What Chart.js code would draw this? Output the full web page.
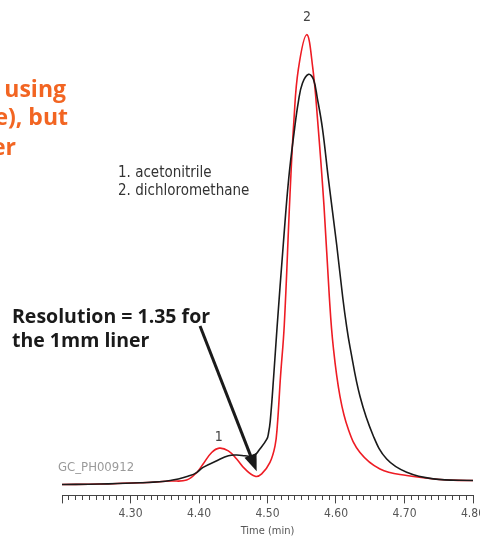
<!DOCTYPE html>
<html>
<head>
<meta charset="utf-8">
<script src="https://cdn.jsdelivr.net/npm/chart.js@4"></script>
<style>body{margin:0;background:#fff}</style>
</head>
<body>
<canvas id="chrom" width="480" height="540"></canvas>
<script>
// black trace
const blackTime = [4.200, 4.255, 4.314, 4.358, 4.387, 4.397, 4.406, 4.426, 4.443, 4.455, 4.467, 4.475, 4.482, 4.487, 4.499, 4.5015, 4.504, 4.509, 4.514, 4.523, 4.531, 4.5395, 4.545, 4.551, 4.560, 4.567, 4.5727, 4.5803, 4.5888, 4.601, 4.6098, 4.6156, 4.6204, 4.635, 4.6545, 4.674, 4.7032, 4.742, 4.800];
const blackSignal = [11, 11.5, 12.7, 15, 20, 23.3, 28.3, 35, 40, 40.7, 40, 39.5, 41, 45, 56.7, 63, 75, 120, 170, 253, 320, 370, 397, 416, 425, 420, 401, 370, 320, 253, 200, 170, 150, 100, 60, 36.7, 23.3, 16.7, 15];
// red trace
const redTime = [4.200, 4.255, 4.314, 4.358, 4.382, 4.397, 4.406, 4.4185, 4.4296, 4.4428, 4.455, 4.467, 4.482, 4.4915, 4.5036, 4.511, 4.5143, 4.519, 4.5245, 4.5328, 4.5387, 4.545, 4.5572, 4.566, 4.573, 4.5825, 4.5903, 4.596, 4.6058, 4.618, 4.635, 4.6642, 4.7032, 4.7518, 4.7908, 4.800];
const redSignal = [11, 11.5, 12.7, 14.5, 15.5, 23.3, 31.7, 43.3, 47.7, 45, 36.7, 26.7, 19.3, 21.7, 33.3, 50, 70, 120, 172, 303, 380, 430, 465, 432, 380, 292, 200, 150, 100, 66.7, 43.3, 26.7, 20, 16, 15, 15];

const tickLabels = ['4.30', '4.40', '4.50', '4.60', '4.70', '4.80'];
const peakNames = ['1', '2'];
const peakTimes = [4.429, 4.5577];
const peakLabelHeights = [60, 484];
const compounds = ['1. acetonitrile', '2. dichloromethane'];
const titleBits = ['using', 'e), but', 'er'];
const noteLines = ['Resolution = 1.35 for', 'the 1mm liner'];
const arrowFrom = [4.4015, 171];
const arrowTo = [4.4842, 24.3];

const narrow = "'Liberation Sans Narrow', 'DejaVu Sans Condensed', sans-serif";

function toPoints(xs, ys) {
  return xs.map((x, i) => ({x: x, y: ys[i]}));
}

const textPlugin = {
  id: 'texts',
  afterDraw(chart) {
    const ctx = chart.ctx;
    const xs = chart.scales.x, ys = chart.scales.y;
    ctx.save();
    // cropped orange heading
    ctx.fillStyle = '#f26522';
    ctx.font = "bold 23px 'Open Sans', sans-serif";
    ctx.textAlign = 'right';
    ctx.textBaseline = 'alphabetic';
    ctx.fillText(titleBits[0], 66, 97);
    ctx.fillText(titleBits[1], 68, 125);
    ctx.fillText(titleBits[2], 16, 155);

    // compound list
    ctx.textAlign = 'left';
    ctx.fillStyle = '#333';
    ctx.font = '15px ' + narrow;
    ctx.fillText(compounds[0], 118, 177);
    ctx.fillText(compounds[1], 118, 195);

    // peak numbers
    ctx.textAlign = 'center';
    ctx.fillStyle = '#444';
    ctx.font = '14px ' + narrow;
    peakNames.forEach((n, i) => {
      ctx.fillText(n, xs.getPixelForValue(peakTimes[i]), ys.getPixelForValue(peakLabelHeights[i]) + 5);
    });

    // file id
    ctx.textAlign = 'left';
    ctx.fillStyle = '#9a9a9a';
    ctx.font = '13px ' + narrow;
    ctx.fillText('GC_PH00912', 58, 471);

    // resolution note
    ctx.fillStyle = '#1a1a1a';
    ctx.font = "bold 19.5px 'Open Sans', sans-serif";
    ctx.fillText(noteLines[0], 12, 323);
    ctx.fillText(noteLines[1], 12, 347);

    // arrow
    const x1 = xs.getPixelForValue(arrowFrom[0]), y1 = ys.getPixelForValue(arrowFrom[1]);
    const x2 = xs.getPixelForValue(arrowTo[0]), y2 = ys.getPixelForValue(arrowTo[1]);
    const len = Math.hypot(x2 - x1, y2 - y1);
    const ux = (x2 - x1) / len, uy = (y2 - y1) / len;
    const hl = 17, hw = 6.5;
    const bx = x2 - ux * hl, by = y2 - uy * hl;
    ctx.strokeStyle = '#1a1a1a';
    ctx.lineWidth = 3;
    ctx.beginPath();
    ctx.moveTo(x1, y1);
    ctx.lineTo(bx + ux * 2, by + uy * 2);
    ctx.stroke();
    ctx.beginPath();
    ctx.moveTo(x2, y2);
    ctx.lineTo(bx - uy * hw, by + ux * hw);
    ctx.lineTo(bx + uy * hw, by - ux * hw);
    ctx.closePath();
    ctx.fill();
    ctx.restore();
  }
};

new Chart(document.getElementById('chrom'), {
  type: 'line',
  data: {
    datasets: [
      {
        label: 'black',
        data: toPoints(blackTime, blackSignal),
        borderColor: '#1a1a1a',
        borderWidth: 1.6,
        pointRadius: 0,
        tension: 0.4
      },
      {
        label: 'red',
        data: toPoints(redTime, redSignal),
        borderColor: '#ee1c24',
        borderWidth: 1.6,
        pointRadius: 0,
        tension: 0.4
      }
    ]
  },
  options: {
    responsive: false,
    animation: false,
    layout: {padding: {left: 62, right: 7, top: 0, bottom: 2}},
    plugins: {legend: {display: false}, tooltip: {enabled: false}},
    scales: {
      x: {
        type: 'linear',
        min: 4.20,
        max: 4.80,
        afterFit(scale) { scale.paddingLeft = 0; scale.paddingRight = 0; },
        border: {display: true, color: '#444', width: 1},
        grid: {
          drawOnChartArea: false,
          tickLength: 8,
          tickColor: '#444',
          tickWidth: 1,
          tickBorderDash: (c) => {
            const v = c.tick ? c.tick.value : 0;
            return Math.abs(Math.round(v * 100) % 10) === 0 ? [] : [4, 20];
          }
        },
        ticks: {
          stepSize: 0.01,
          autoSkip: false,
          maxRotation: 0,
          padding: 3,
          color: '#555',
          font: {family: narrow, size: 12},
          callback: (v) => {
            const s = Number(v).toFixed(2);
            return tickLabels.includes(s) ? s : '';
          }
        },
        title: {
          display: true,
          text: 'Time (min)',
          color: '#555',
          font: {family: narrow, size: 11},
          padding: {top: 1, bottom: 0}
        }
      },
      y: {
        display: false,
        min: 0,
        max: 500
      }
    }
  },
  plugins: [textPlugin]
});
</script>
</body>
</html>
